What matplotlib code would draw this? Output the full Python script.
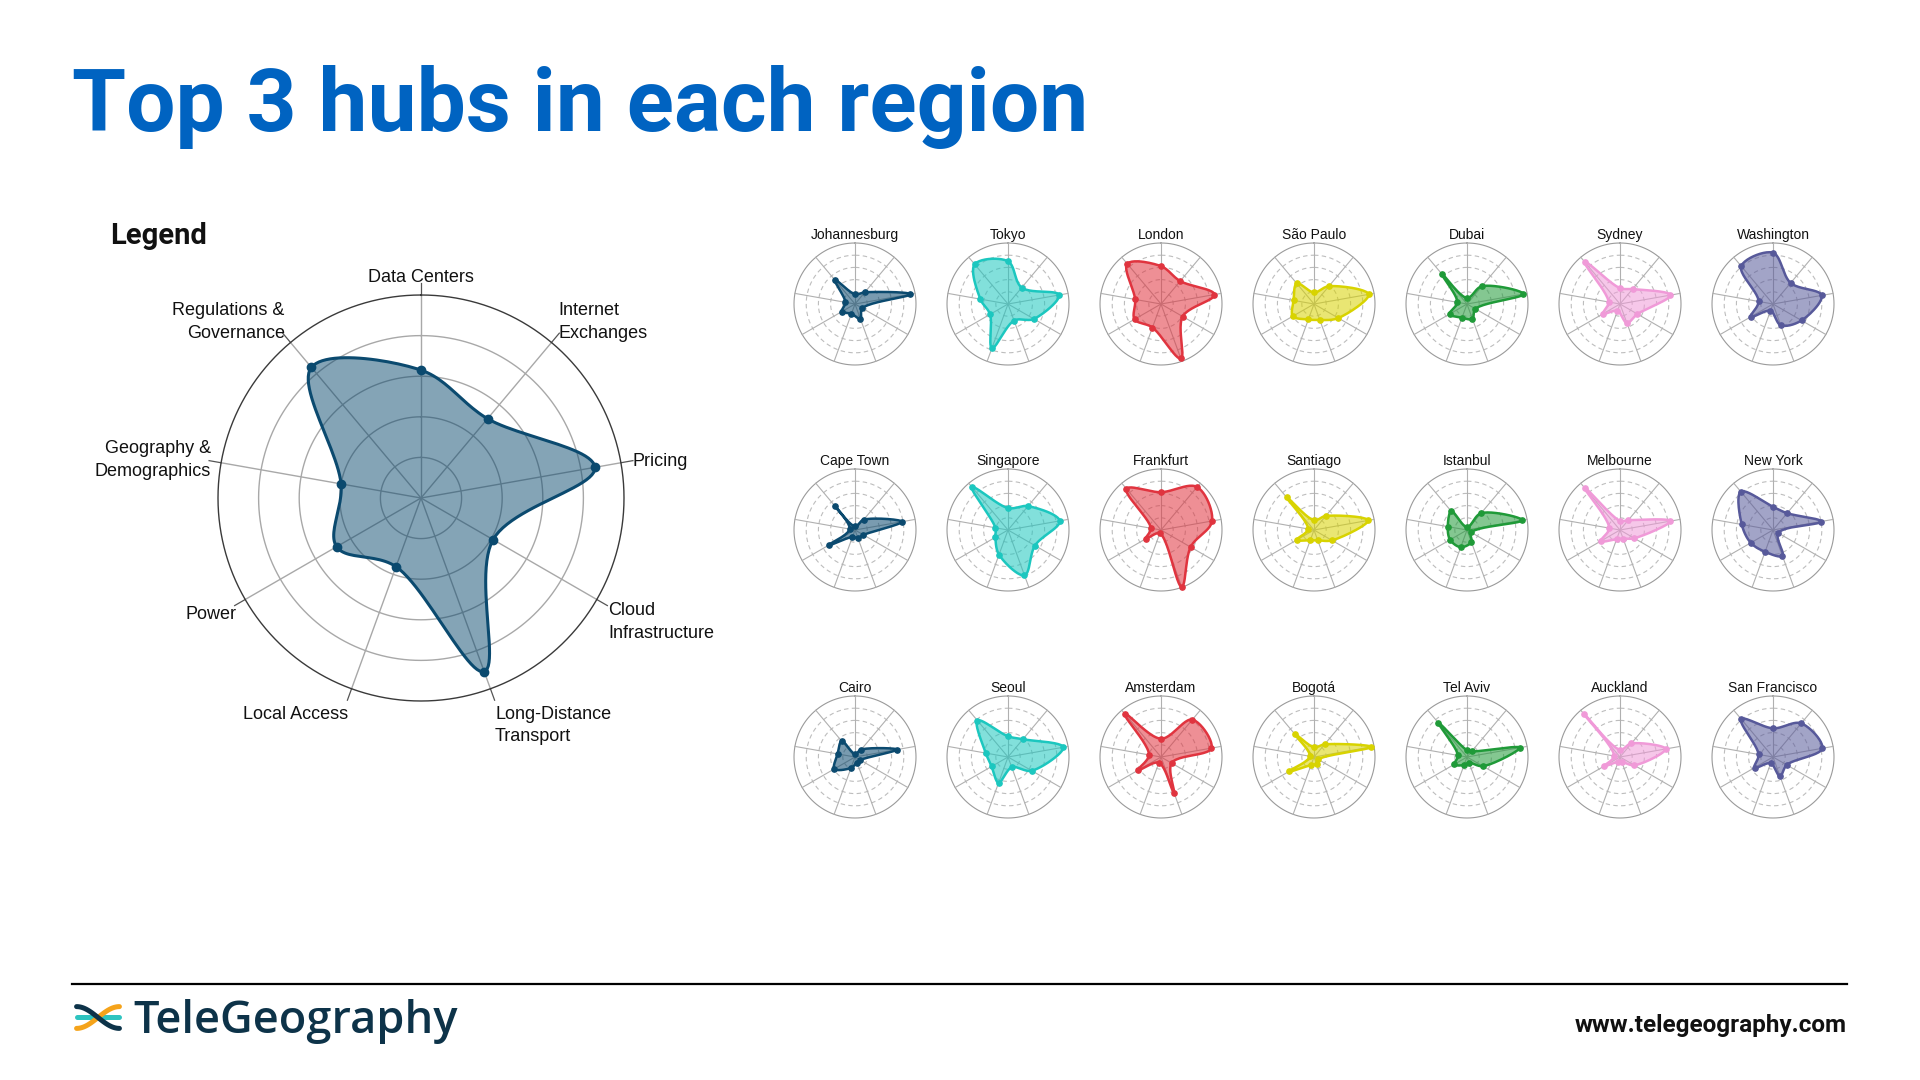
import numpy as np
import matplotlib
matplotlib.use("Agg")
import matplotlib.pyplot as plt
from matplotlib.lines import Line2D
from matplotlib.transforms import offset_copy

# axes of every radar, clockwise from the top
categories = ["Data Centers", "Internet\nExchanges", "Pricing", "Cloud\nInfrastructure",
              "Long-Distance\nTransport", "Local Access", "Power",
              "Geography &\nDemographics", "Regulations &\nGovernance"]

legend_scores = [3.15, 2.55, 4.35, 2.05, 4.55, 1.8, 2.4, 2.0, 4.2]

# three hubs per region (top to bottom), scores on a 0-5 scale
africa_hubs = ["Johannesburg", "Cape Town", "Cairo"]
africa_scores = [[0.8, 1.25, 4.6, 0.7, 1.3, 0.85, 1.25, 0.8, 2.6],
                 [0.3, 1.1, 3.9, 0.8, 0.7, 0.6, 2.5, 0.45, 2.6],
                 [0.25, 0.8, 3.5, 0.5, 0.5, 0.95, 1.95, 1.45, 1.7]]

asia_hubs = ["Tokyo", "Singapore", "Seoul"]
asia_scores = [[3.5, 1.75, 4.25, 2.45, 1.45, 3.85, 1.7, 2.3, 4.25],
               [1.8, 2.55, 4.3, 2.55, 3.95, 2.15, 1.2, 1.05, 4.55],
               [1.7, 1.9, 4.6, 2.25, 0.9, 2.25, 1.55, 1.85, 3.9]]

europe_hubs = ["London", "Frankfurt", "Amsterdam"]
europe_scores = [[3.1, 2.45, 4.45, 2.05, 4.75, 2.05, 2.5, 2.15, 4.3],
                 [3.1, 4.6, 4.25, 2.8, 4.95, 0.3, 1.45, 0.85, 4.4],
                 [1.5, 4.0, 4.2, 1.0, 3.1, 0.5, 2.2, 1.0, 4.6]]

latam_hubs = ["São Paulo", "Santiago", "Bogotá"]
latam_scores = [[0.95, 1.9, 4.55, 2.3, 1.4, 1.35, 2.0, 1.7, 2.2],
                [0.8, 1.5, 4.5, 1.7, 0.9, 0.9, 1.6, 0.5, 3.5],
                [0.8, 1.35, 4.75, 0.4, 0.6, 0.7, 2.35, 0.35, 2.45]]

mideast_hubs = ["Dubai", "Istanbul", "Tel Aviv"]
mideast_scores = [[0.5, 1.9, 4.7, 0.8, 1.3, 1.2, 1.65, 0.8, 3.25],
                  [0.25, 1.8, 4.6, 0.4, 1.05, 1.5, 1.6, 1.6, 2.0],
                  [0.55, 0.6, 4.4, 1.5, 0.5, 0.7, 1.2, 0.75, 3.65]]

oceania_hubs = ["Sydney", "Melbourne", "Auckland"]
oceania_scores = [[1.3, 1.6, 4.2, 1.65, 1.65, 0.6, 1.6, 0.95, 4.5],
                  [0.75, 1.05, 4.2, 1.35, 0.75, 0.8, 1.8, 0.9, 4.5],
                  [0.6, 1.45, 3.8, 1.35, 0.4, 0.4, 1.55, 0.5, 4.6]]

namerica_hubs = ["Washington", "New York", "San Francisco"]
namerica_scores = [[4.2, 2.25, 4.05, 2.7, 1.85, 0.6, 2.1, 1.2, 4.05],
                   [1.9, 1.8, 4.0, 0.5, 2.25, 1.9, 2.1, 2.6, 4.1],
                   [2.35, 3.6, 4.1, 1.3, 1.7, 0.55, 1.75, 1.2, 4.05]]

region_hubs = [africa_hubs, asia_hubs, europe_hubs, latam_hubs,
               mideast_hubs, oceania_hubs, namerica_hubs]
region_scores = [africa_scores, asia_scores, europe_scores, latam_scores,
                 mideast_scores, oceania_scores, namerica_scores]
region_colors = ["#0b4a6f", "#1cc7bf", "#e0343f", "#d8d300",
                 "#1f9a38", "#f09ad8", "#57599a"]

W, H = 1920, 1080
fig = plt.figure(figsize=(W / 100, H / 100), dpi=100)
fig.patch.set_facecolor("white")

LABEL_FONT = ["Liberation Sans", "DejaVu Sans"]
theta = np.arange(len(categories)) * 2 * np.pi / len(categories)


def add_polar(cx, cy, r):
    ax = fig.add_axes([(cx - r) / W, 1 - (cy + r) / H, 2 * r / W, 2 * r / H],
                      projection="polar")
    ax.set_theta_zero_location("N")
    ax.set_theta_direction(-1)
    ax.set_ylim(0, 5)
    ax.axis("off")
    return ax


def smooth_closed(th, r, n=24):
    # centripetal catmull-rom through the points, closed
    P = np.column_stack([r * np.sin(th), r * np.cos(th)])
    m = len(P)
    pts = []
    for i in range(m):
        p0, p1, p2, p3 = P[(i - 1) % m], P[i], P[(i + 1) % m], P[(i + 2) % m]
        t0 = 0.0
        t1 = t0 + max(np.linalg.norm(p1 - p0), 1e-4) ** 0.5
        t2 = t1 + max(np.linalg.norm(p2 - p1), 1e-4) ** 0.5
        t3 = t2 + max(np.linalg.norm(p3 - p2), 1e-4) ** 0.5
        t = np.linspace(t1, t2, n, endpoint=False)[:, None]
        a1 = (t1 - t) / (t1 - t0) * p0 + (t - t0) / (t1 - t0) * p1
        a2 = (t2 - t) / (t2 - t1) * p1 + (t - t1) / (t2 - t1) * p2
        a3 = (t3 - t) / (t3 - t2) * p2 + (t - t2) / (t3 - t2) * p3
        b1 = (t2 - t) / (t2 - t0) * a1 + (t - t0) / (t2 - t0) * a2
        b2 = (t3 - t) / (t3 - t1) * a2 + (t - t1) / (t3 - t1) * a3
        pts.append((t2 - t) / (t2 - t1) * b1 + (t - t1) / (t2 - t1) * b2)
    pts = np.vstack(pts + [pts[0][:1]])
    return np.arctan2(pts[:, 0], pts[:, 1]), np.hypot(pts[:, 0], pts[:, 1])


def draw_shape(ax, values, color, lw, ms, alpha):
    v = np.asarray(values, dtype=float)
    st, sr = smooth_closed(theta, v)
    ax.fill(st, sr, color=color, alpha=alpha, lw=0, zorder=3)
    ax.plot(st, sr, color=color, lw=lw, zorder=4, clip_on=False)
    ax.plot(theta, v, "o", color=color, ms=ms, zorder=5, clip_on=False)


ring = np.linspace(0, 2 * np.pi, 361)

# ---- legend radar ----
lcx, lcy, lr = 421, 498, 203
lax = add_polar(lcx, lcy, lr)
for k in range(1, 5):
    lax.plot(ring, np.full_like(ring, k), color="#a8a8a8", lw=1.0, zorder=1, clip_on=False)
lax.plot(ring, np.full_like(ring, 5), color="#3a3a3a", lw=1.0, zorder=2, clip_on=False)
for t in theta:
    lax.plot([t, t], [0, 5], color="#a8a8a8", lw=1.0, zorder=1, clip_on=False)
    lax.plot([t, t], [5, 5.3], color="#555555", lw=0.9, zorder=1, clip_on=False)
draw_shape(lax, legend_scores, region_colors[0], 2.2, 6, 0.5)

# alignment and nudge (points) of each axis label
label_pos = [("center", "bottom", 0, -3), ("left", "bottom", -1, -7), ("left", "center", -1, -1),
             ("left", "top", 0, 3), ("left", "top", 0, -3), ("right", "top", 1, -3),
             ("right", "top", 2, 0), ("right", "center", 2, 0), ("right", "bottom", 2, -7)]
for t, lab, (ha, va, dx, dy) in zip(theta, categories, label_pos):
    tr = offset_copy(lax.transData, fig=fig, x=dx, y=dy, units="points")
    lax.text(t, 5.33, lab, ha=ha, va=va, ma=ha, transform=tr,
             fontsize=13, family=LABEL_FONT, color="#111111", linespacing=1.45,
             clip_on=False)

fig.text(110 / W, 1 - 236 / H, "Legend", fontsize=21, fontweight="bold",
         family=["Roboto", "DejaVu Sans"], color="#111111", va="center", ha="left")

# ---- small multiples ----
col_x = [855, 1008, 1161, 1314, 1467, 1620, 1773]
row_y = [304, 530, 757]
sr_px = 61
for ci, (hubs, scores, color) in enumerate(zip(region_hubs, region_scores, region_colors)):
    for ri, (name, vals) in enumerate(zip(hubs, scores)):
        ax = add_polar(col_x[ci], row_y[ri], sr_px)
        for k in range(1, 5):
            ax.plot(ring, np.full_like(ring, k), color="#bdbdbd", lw=0.8,
                    ls=(0, (4, 3)), zorder=1, clip_on=False)
        ax.plot(ring, np.full_like(ring, 5), color="#9a9a9a", lw=0.8, zorder=1, clip_on=False)
        for t in theta:
            ax.plot([t, t], [0, 5], color="#b0b0b0", lw=0.8, zorder=1, clip_on=False)
        draw_shape(ax, vals, color, 1.8, 3.8, 0.55)
        fig.text(col_x[ci] / W, 1 - (row_y[ri] - 69) / H, name, ha="center", va="center",
                 fontsize=10, family=LABEL_FONT, color="#111111")

# ---- title and footer ----
fig.text(72 / W, 1 - 131 / H, "Top 3 hubs in each region", fontsize=63,
         fontweight="bold", family=["Roboto", "DejaVu Sans"], color="#0063c1",
         ha="left", va="baseline")

fig.add_artist(Line2D([72 / W, 1847 / W], [1 - 984 / H, 1 - 984 / H],
                      color="black", lw=1.6))

lx = fig.add_axes([74 / W, 1 - 1031 / H, 48 / W, 27 / H])
lx.set_xlim(-0.06, 1.06)
lx.set_ylim(-0.12, 1.12)
lx.axis("off")
s = np.linspace(0, 1, 60)
lx.plot([0.02, 0.98], [0.5, 0.5], color="#2ec4c0", lw=3.6, solid_capstyle="round")
lx.plot(s, 0.5 - 0.5 * np.cos(np.pi * s), color="#f5a31a", lw=3.6, solid_capstyle="round")
lx.plot(s, 0.5 + 0.5 * np.cos(np.pi * s), color="#0d3349", lw=3.6, solid_capstyle="round")

fig.text(133 / W, 1 - 1033 / H, "TeleGeography", fontsize=32.5, fontweight="semibold",
         family=["Open Sans", "DejaVu Sans"], color="#0d3349", ha="left", va="baseline")
fig.text(1847 / W, 1 - 1032 / H, "www.telegeography.com", fontsize=17.5,
         fontweight="bold", family=["Roboto", "DejaVu Sans"], color="#111111",
         ha="right", va="baseline")

fig.savefig("out.png", dpi=100, facecolor="white")
